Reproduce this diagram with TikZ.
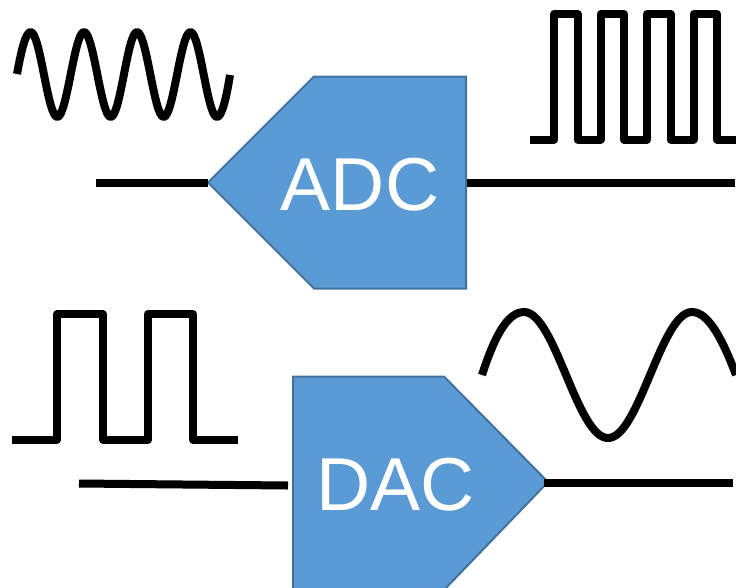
\documentclass[tikz,border=0pt]{standalone}
\usepackage{fontspec}
\setmainfont{Liberation Sans}
\definecolor{blockfill}{HTML}{5B9BD5}
\definecolor{blockline}{HTML}{41719C}
\tikzset{x=1pt,y=-1pt,
 wave/.style={draw=black,line width=8pt,line join=round},
 wire/.style={draw=black,line width=8pt},
 block/.style={draw=blockline,fill=blockfill,line width=2pt},
 lbl/.style={text=white,font=\fontsize{75}{75}\selectfont,inner sep=0pt,anchor=base}}
\begin{document}
\begin{tikzpicture}
\useasboundingbox (0,0) rectangle (736,587);
\clip (0,0) rectangle (736,587);
% ADC
\draw[block] (208,182.5) -- (314,76.5) -- (466,76.5) -- (466,288.5) -- (314,288.5) -- cycle;
\node[lbl] (adc) at (360,210.5) {ADC};
\coordinate (adcin) at (208,182.5);
\coordinate (adcout) at (467,182.5);
\coordinate (adcl) at (96,182.5);
\coordinate (adcr) at (735,182.5);
\draw[wire] (adcl) -- (adcin);
\draw[wire] (adcout) -- (adcr);
% DAC
\draw[block] (293,376.5) -- (444,376.5) -- (548,482) -- (444,590) -- (293,590) -- cycle;
\node[lbl] (dac) at (395.5,510.5) {DAC};
\coordinate (dacl) at (79,483.5);
\coordinate (dacin) at (288,485.5);
\coordinate (dacout) at (544,482.5);
\coordinate (dacr) at (733,482.5);
\draw[wire] (dacl) -- (dacin);
\draw[wire] (dacout) -- (dacr);
% top-left sine
\draw[wave] (17,74) .. controls (21,52) and (25.5,32) .. (30.6,32)
 .. controls (40.3,32) and (47.6,117) .. (57.3,117)
 .. controls (67,117) and (74.3,32) .. (84,32)
 .. controls (93.7,32) and (101,117) .. (110.7,117)
 .. controls (120.4,117) and (127.5,32) .. (137,32)
 .. controls (146.7,32) and (154,117) .. (163.7,117)
 .. controls (173.4,117) and (180.7,32) .. (190.4,32)
 .. controls (200.1,32) and (207.3,117) .. (217,117)
 .. controls (222,117) and (226.5,97) .. (230,75);
% top-right square
\draw[wave] (530,139.5) -- (554,139.5) -- (554,14) -- (577.5,14) -- (577.5,139.5) -- (600.5,139.5) -- (600.5,14) -- (624,14) -- (624,139.5) -- (647,139.5) -- (647,14) -- (670.5,14) -- (670.5,139.5) -- (693.5,139.5) -- (693.5,14) -- (717,14) -- (717,139.5) -- (736,139.5);
% bottom-left square
\draw[wave] (12,439.5) -- (57,439.5) -- (57,314) -- (103,314) -- (103,439.5) -- (148,439.5) -- (148,314) -- (193,314) -- (193,439.5) -- (238,439.5);
% bottom-right sine
\draw[wave] (482,375) .. controls (494,338) and (507,312) .. (524,312)
 .. controls (555,312) and (577,438) .. (608,438)
 .. controls (639,438) and (661,312) .. (692,312)
 .. controls (708,312) and (722,338) .. (736,375);
\end{tikzpicture}
\end{document}
